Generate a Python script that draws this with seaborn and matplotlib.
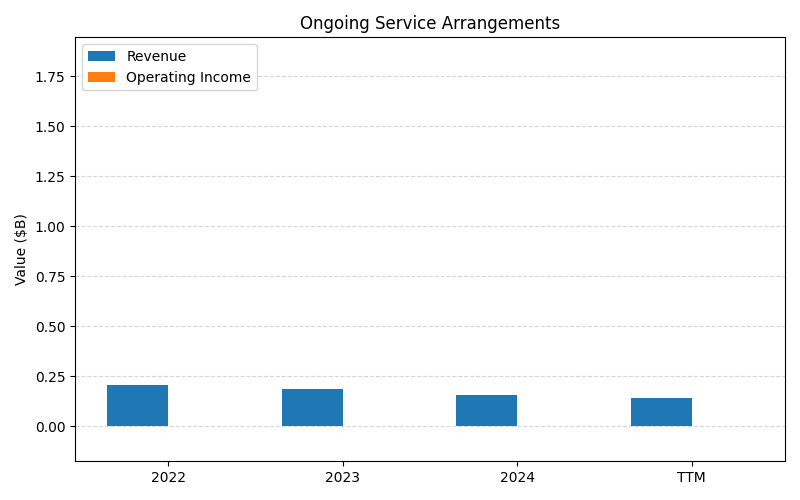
import pandas as pd
import matplotlib.pyplot as plt
import seaborn as sns

# values ($B)
periods = ["2022", "2023", "2024", "TTM"]
revenue = [0.205, 0.185, 0.155, 0.14]
operating_income = [0.0, 0.0, 0.0, 0.0]

df = pd.DataFrame({
    "period": periods * 2,
    "metric": ["Revenue"] * len(periods) + ["Operating Income"] * len(periods),
    "value": revenue + operating_income,
})

fig, ax = plt.subplots(figsize=(8, 5), dpi=100)
sns.barplot(data=df, x="period", y="value", hue="metric",
            palette=["#1f77b4", "#ff7f0e"], width=0.7, saturation=1,
            errorbar=None, ax=ax)

ax.set_title("Ongoing Service Arrangements")
ax.set_xlabel("")
ax.set_ylabel("Value ($B)")
ax.set_xlim(-0.535, 3.535)
ax.set_ylim(-0.175, 1.945)
ax.grid(axis="y", linestyle="--", alpha=0.5)
ax.set_axisbelow(True)
ax.legend(loc="upper left", title=None)

plt.tight_layout()
plt.savefig("out.png")
plt.close()
